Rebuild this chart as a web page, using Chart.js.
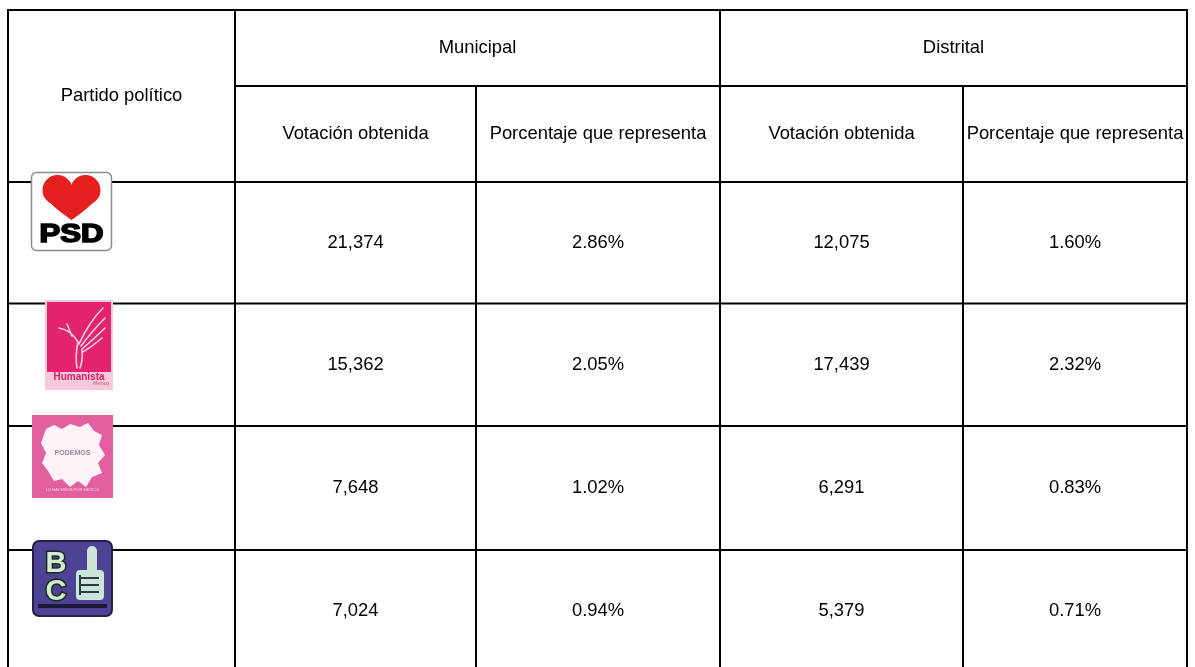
<!DOCTYPE html>
<html>
<head>
<meta charset="utf-8">
<script src="https://cdn.jsdelivr.net/npm/chart.js@4"></script>
<style>
  body { margin: 0; background: #fff; }
  #wrap { width: 1195px; height: 667px; position: relative; }
</style>
</head>
<body>
<div id="wrap"><canvas id="votesTable"></canvas></div>
<script>
// table data
const firstHeader = 'Partido político';
const groupHeaders = ['Municipal', 'Distrital'];
const columnHeaders = ['Votación obtenida', 'Porcentaje que representa', 'Votación obtenida', 'Porcentaje que representa'];
const parties = ['PSD', 'Humanista', 'Podemos', 'BC'];
const municipalVotes = [21374, 15362, 7648, 7024];
const municipalPct = [2.86, 2.05, 1.02, 0.94];
const distritalVotes = [12075, 17439, 6291, 5379];
const distritalPct = [1.60, 2.32, 0.83, 0.71];

// layout of the grid, in table units (1 unit = 1 px)
const colEdges = [0, 227, 468, 712, 955, 1179];
const rowEdges = [0, 76, 172, 293.5, 416, 540, 662];

const FONT = '"Liberation Sans", Arial, sans-serif';
const FONT_SIZE = 18.4;

function mid(arr, i) { return (arr[i] + arr[i + 1]) / 2; }

const columns = [
    municipalVotes.map(v => v.toLocaleString('en-US')),
    municipalPct.map(v => v.toFixed(2) + '%'),
    distritalVotes.map(v => v.toLocaleString('en-US')),
    distritalPct.map(v => v.toFixed(2) + '%')
];

const datasets = columns.map((col, c) => ({
    label: columnHeaders[c],
    data: col.map((txt, r) => ({ x: mid(colEdges, c + 1), y: mid(rowEdges, r + 2), text: txt })),
    pointRadius: 0,
    showLine: false
}));

function rrect(ctx, x, y, w, h, r) {
    ctx.beginPath();
    ctx.moveTo(x + r, y);
    ctx.arcTo(x + w, y, x + w, y + h, r);
    ctx.arcTo(x + w, y + h, x, y + h, r);
    ctx.arcTo(x, y + h, x, y, r);
    ctx.arcTo(x, y, x + w, y, r);
    ctx.closePath();
}

function drawPSD(ctx, x, y, w, h) {
    rrect(ctx, x + 0.5, y + 0.5, w - 1, h - 1, 5);
    ctx.fillStyle = '#fff';
    ctx.fill();
    ctx.strokeStyle = '#8c8c8c';
    ctx.lineWidth = 1.5;
    ctx.stroke();
    const cx = x + w * 0.5, top = y + 3;
    // heart: two round lobes and a point
    ctx.fillStyle = '#e3201f';
    ctx.beginPath();
    ctx.arc(cx - 14, top + 15, 15, 0, Math.PI * 2);
    ctx.arc(cx + 14, top + 15, 15, 0, Math.PI * 2);
    ctx.fill();
    ctx.beginPath();
    ctx.moveTo(cx - 28.5, top + 20);
    ctx.quadraticCurveTo(cx - 18, top + 33, cx, top + 45);
    ctx.quadraticCurveTo(cx + 18, top + 33, cx + 28.5, top + 20);
    ctx.lineTo(cx, top + 12);
    ctx.closePath();
    ctx.fill();
    ctx.save();
    ctx.font = 'bold 25px ' + FONT;
    ctx.fillStyle = '#000';
    ctx.strokeStyle = '#000';
    ctx.lineWidth = 1.6;
    ctx.textAlign = 'center';
    ctx.textBaseline = 'alphabetic';
    const tw = ctx.measureText('PSD').width;
    ctx.translate(cx, y + 70);
    ctx.scale(64 / tw, 1);
    ctx.fillText('PSD', 0, 0);
    ctx.strokeText('PSD', 0, 0);
    ctx.restore();
}

function drawHumanista(ctx, x, y, w, h) {
    ctx.fillStyle = '#f7c9da';
    ctx.fillRect(x, y, w, h);
    ctx.fillStyle = '#e4236f';
    ctx.fillRect(x + 2, y + 2, w - 4, h - 20);
    ctx.strokeStyle = '#fbd3e3';
    ctx.lineWidth = 1.6;
    ctx.lineCap = 'round';
    ctx.beginPath();
    // wings
    ctx.moveTo(x + 34, y + 44); ctx.quadraticCurveTo(x + 44, y + 22, x + 58, y + 8);
    ctx.moveTo(x + 36, y + 46); ctx.quadraticCurveTo(x + 48, y + 30, x + 60, y + 18);
    ctx.moveTo(x + 37, y + 49); ctx.quadraticCurveTo(x + 50, y + 38, x + 60, y + 28);
    ctx.moveTo(x + 38, y + 52); ctx.quadraticCurveTo(x + 48, y + 46, x + 57, y + 38);
    // head and body
    ctx.moveTo(x + 14, y + 28); ctx.quadraticCurveTo(x + 26, y + 30, x + 33, y + 42);
    ctx.moveTo(x + 22, y + 24); ctx.lineTo(x + 27, y + 36);
    ctx.moveTo(x + 33, y + 42); ctx.quadraticCurveTo(x + 30, y + 56, x + 32, y + 68);
    ctx.moveTo(x + 37, y + 50); ctx.quadraticCurveTo(x + 38, y + 60, x + 35, y + 68);
    ctx.stroke();
    ctx.fillStyle = '#d81e62';
    ctx.font = 'bold 10px ' + FONT;
    ctx.textAlign = 'center';
    ctx.textBaseline = 'middle';
    ctx.fillText('Humanista', x + w / 2, y + h - 13);
    ctx.font = '5px ' + FONT;
    ctx.fillStyle = '#b06080';
    ctx.fillText('México', x + w - 12, y + h - 6);
}

function drawPodemos(ctx, x, y, w, h) {
    ctx.fillStyle = '#e2609f';
    ctx.fillRect(x, y, w, h);
    const pts = [[14, 14], [22, 10], [30, 14], [38, 9], [48, 12], [56, 8], [62, 16], [70, 20], [67, 30], [73, 40],
        [66, 48], [70, 58], [60, 62], [54, 72], [46, 66], [38, 72], [30, 64], [22, 66], [16, 56], [10, 48], [14, 38], [9, 28]];
    ctx.beginPath();
    pts.forEach((p, i) => {
        if (i === 0) ctx.moveTo(x + p[0], y + p[1]);
        else ctx.lineTo(x + p[0], y + p[1]);
    });
    ctx.closePath();
    ctx.fillStyle = '#fdf2f8';
    ctx.fill();
    ctx.fillStyle = '#9a8a94';
    ctx.font = 'bold 7px ' + FONT;
    ctx.textAlign = 'center';
    ctx.textBaseline = 'middle';
    ctx.fillText('PODEMOS', x + w / 2, y + 38);
    ctx.fillStyle = '#f6d3e6';
    ctx.font = '4px ' + FONT;
    ctx.fillText('LO HACEMOS POR MEXICO', x + w / 2, y + h - 8);
}

function drawBC(ctx, x, y, w, h) {
    rrect(ctx, x + 1, y + 1, w - 2, h - 2, 6);
    ctx.fillStyle = '#4d4294';
    ctx.fill();
    ctx.strokeStyle = '#241f4a';
    ctx.lineWidth = 2;
    ctx.stroke();
    ctx.font = 'bold 29px ' + FONT;
    ctx.textAlign = 'center';
    ctx.textBaseline = 'alphabetic';
    ctx.lineWidth = 3;
    ctx.strokeStyle = '#1d2a1d';
    ctx.fillStyle = '#cfeecf';
    ctx.strokeText('B', x + 24, y + 32);
    ctx.fillText('B', x + 24, y + 32);
    ctx.strokeText('C', x + 24, y + 60);
    ctx.fillText('C', x + 24, y + 60);
    // thumbs up
    ctx.fillStyle = '#c9e6d6';
    rrect(ctx, x + 55, y + 6, 10, 28, 5);
    ctx.fill();
    rrect(ctx, x + 44, y + 30, 28, 30, 4);
    ctx.fill();
    ctx.strokeStyle = '#2e3a4a';
    ctx.lineWidth = 2;
    ctx.beginPath();
    ctx.moveTo(x + 48, y + 38); ctx.lineTo(x + 66, y + 38);
    ctx.moveTo(x + 48, y + 45); ctx.lineTo(x + 66, y + 45);
    ctx.moveTo(x + 48, y + 52); ctx.lineTo(x + 66, y + 52);
    ctx.moveTo(x + 48, y + 36); ctx.lineTo(x + 48, y + 54);
    ctx.stroke();
    ctx.fillStyle = '#1b1838';
    ctx.fillRect(x + 6, y + h - 13, w - 12, 4);
}

// logo boxes: offset from the column/row start, in table units
const logoBoxes = [
    { draw: drawPSD, dx: 23, dy: -10, w: 81, h: 79 },
    { draw: drawHumanista, dx: 37, dy: -3.5, w: 68, h: 90 },
    { draw: drawPodemos, dx: 24, dy: -11, w: 81, h: 83 },
    { draw: drawBC, dx: 24, dy: -10, w: 81, h: 77 }
];

const tablePlugin = {
    id: 'tablePlugin',
    beforeDatasetsDraw(chart) {
        const ctx = chart.ctx;
        const xs = chart.scales.x, ys = chart.scales.y;
        const px = v => xs.getPixelForValue(v);
        const py = v => ys.getPixelForValue(v);
        ctx.save();
        ctx.strokeStyle = '#000';
        ctx.lineWidth = 2;
        ctx.lineCap = 'square';
        ctx.beginPath();
        // outer frame
        ctx.moveTo(px(colEdges[0]), py(rowEdges[0])); ctx.lineTo(px(colEdges[5]), py(rowEdges[0]));
        ctx.moveTo(px(colEdges[0]), py(rowEdges[0])); ctx.lineTo(px(colEdges[0]), py(rowEdges[6]));
        ctx.moveTo(px(colEdges[5]), py(rowEdges[0])); ctx.lineTo(px(colEdges[5]), py(rowEdges[6]));
        // full-height separators
        [1, 3].forEach(c => {
            ctx.moveTo(px(colEdges[c]), py(rowEdges[0])); ctx.lineTo(px(colEdges[c]), py(rowEdges[6]));
        });
        // sub column separators
        [2, 4].forEach(c => {
            ctx.moveTo(px(colEdges[c]), py(rowEdges[1])); ctx.lineTo(px(colEdges[c]), py(rowEdges[6]));
        });
        // under group headers
        ctx.moveTo(px(colEdges[1]), py(rowEdges[1])); ctx.lineTo(px(colEdges[5]), py(rowEdges[1]));
        // row lines
        for (let r = 2; r < rowEdges.length - 1; r++) {
            ctx.moveTo(px(colEdges[0]), py(rowEdges[r])); ctx.lineTo(px(colEdges[5]), py(rowEdges[r]));
        }
        ctx.stroke();

        // header text
        ctx.fillStyle = '#000';
        ctx.font = FONT_SIZE + 'px ' + FONT;
        ctx.textAlign = 'center';
        ctx.textBaseline = 'middle';
        ctx.fillText(firstHeader, px(mid(colEdges, 0)), py((rowEdges[0] + rowEdges[2]) / 2));
        ctx.fillText(groupHeaders[0], px((colEdges[1] + colEdges[3]) / 2), py(mid(rowEdges, 0)));
        ctx.fillText(groupHeaders[1], px((colEdges[3] + colEdges[5]) / 2), py(mid(rowEdges, 0)));
        columnHeaders.forEach((h, c) => {
            ctx.fillText(h, px(mid(colEdges, c + 1)), py(mid(rowEdges, 1)));
        });

        // party logos
        parties.forEach((p, r) => {
            const b = logoBoxes[r];
            const x0 = px(colEdges[0] + b.dx), y0 = py(rowEdges[r + 2] + b.dy);
            ctx.save();
            b.draw(ctx, x0, y0, b.w, b.h);
            ctx.restore();
        });
        ctx.restore();
    },
    afterDatasetsDraw(chart) {
        const ctx = chart.ctx;
        ctx.save();
        ctx.fillStyle = '#000';
        ctx.font = FONT_SIZE + 'px ' + FONT;
        ctx.textAlign = 'center';
        ctx.textBaseline = 'middle';
        chart.data.datasets.forEach((ds, i) => {
            chart.getDatasetMeta(i).data.forEach((pt, j) => {
                ctx.fillText(ds.data[j].text, pt.x, pt.y);
            });
        });
        ctx.restore();
    }
};

const tableChart = new Chart(document.getElementById('votesTable').getContext('2d'), {
    type: 'scatter',
    data: { datasets: datasets },
    options: {
        responsive: true,
        maintainAspectRatio: false,
        animation: false,
        layout: { padding: { left: 8, right: 8, top: 10, bottom: 0 } },
        plugins: {
            legend: { display: false },
            tooltip: { enabled: false }
        },
        scales: {
            x: { type: 'linear', min: 0, max: 1179, display: false },
            y: { type: 'linear', min: 0, max: 657, reverse: true, display: false }
        }
    },
    plugins: [tablePlugin]
});
</script>
</body>
</html>
